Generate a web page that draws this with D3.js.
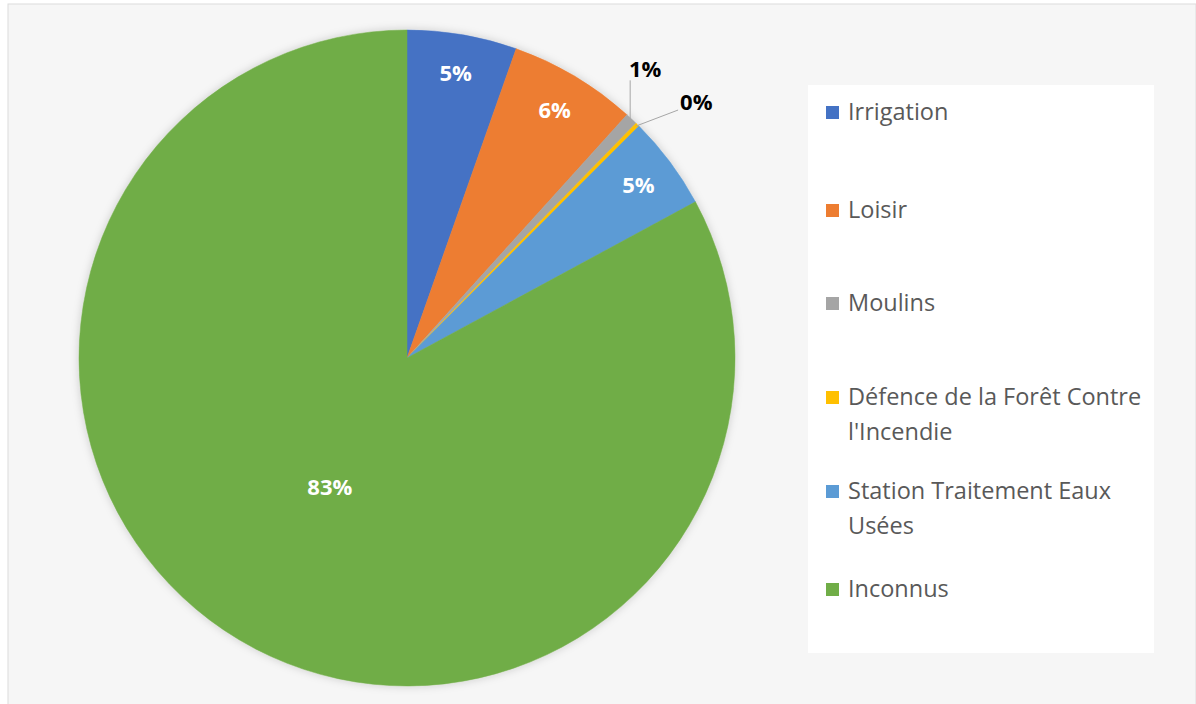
<!DOCTYPE html>
<head>
    <meta charset="utf-8">
    <script src="https://d3js.org/d3.v7.min.js"></script>
    <style>
        body { margin:0; background:#fff; }
        .legend-text { font-family: 'Open Sans', sans-serif; font-size: 23.5px; fill: #595959; }
        .pct { font-family: 'Open Sans', sans-serif; font-size: 22px; font-weight: bold; }
        .leader { stroke: #a6a6a6; stroke-width: 1; fill: none; }
    </style>
</head>
<body>
<script>
    const categories = ['Irrigation', 'Loisir', 'Moulins', 'Défence de la Forêt Contre l\'Incendie', 'Station Traitement Eaux Usées', 'Inconnus'];
    const legendLines = [['Irrigation'], ['Loisir'], ['Moulins'], ['Défence de la Forêt Contre', 'l\'Incendie'], ['Station Traitement Eaux', 'Usées'], ['Inconnus']];
    const values = [5.4, 6.3, 0.6, 0.2, 4.6, 82.9];
    const colors = ['#4472c4', '#ed7d31', '#a5a5a5', '#ffc000', '#5b9bd5', '#70ad47'];

    const width = 1196, height = 704;
    const cx = 407, cy = 358, radius = 328;

    const svg = d3.select('body').append('svg')
        .attr('width', width)
        .attr('height', height);

    const defs = svg.append('defs');
    const shadow = defs.append('filter').attr('id', 'shadow')
        .attr('x', '-10%').attr('y', '-10%').attr('width', '120%').attr('height', '120%');
    shadow.append('feDropShadow')
        .attr('dx', 0).attr('dy', 0).attr('stdDeviation', 4)
        .attr('flood-color', '#000').attr('flood-opacity', 0.18);

    // chart area
    svg.append('rect')
        .attr('x', 8).attr('y', 4)
        .attr('width', width - 8).attr('height', height)
        .attr('fill', '#f6f6f6')
        .attr('stroke', '#dcdcdc');

    // legend box
    svg.append('rect')
        .attr('x', 808).attr('y', 85)
        .attr('width', 346).attr('height', 568)
        .attr('fill', '#fff');

    const pie = d3.pie().sort(null).value(d => d);
    const arcs = pie(values);
    const arc = d3.arc().innerRadius(0).outerRadius(radius);

    const g = svg.append('g').attr('transform', `translate(${cx},${cy})`);

    g.append('g').attr('filter', 'url(#shadow)')
        .selectAll('path')
        .data(arcs)
        .enter().append('path')
        .attr('d', arc)
        .attr('fill', (d, i) => colors[i])
        .attr('stroke', (d, i) => colors[i])
        .attr('stroke-width', 0.5);

    const pctText = d => `${Math.round(d.value)}%`;
    const inner = arcs.filter(d => d.value >= 2);
    const outer = arcs.filter(d => d.value < 2);

    g.selectAll('.pct-in')
        .data(inner)
        .enter().append('text')
        .attr('class', 'pct')
        .attr('fill', '#fff')
        .attr('text-anchor', 'middle')
        .attr('dy', '0.35em')
        .attr('transform', d => {
            const r = d.value > 50 ? radius * 0.46 : radius * 0.88;
            const a = (d.startAngle + d.endAngle) / 2;
            return `translate(${Math.sin(a) * r},${-Math.cos(a) * r})`;
        })
        .text(pctText);

    // small slices: labels outside with leader lines
    outer.forEach((d, k) => {
        const a = (d.startAngle + d.endAngle) / 2;
        const ex = Math.sin(a) * (radius - 2), ey = -Math.cos(a) * (radius - 2);
        let pts, tx, ty, anchor;
        if (k === 0) {
            pts = [[ex, ey], [ex, ey - 40]];
            tx = ex + 15; ty = ey - 51; anchor = 'middle';
        } else {
            pts = [[ex, ey], [ex + 42, ey - 16]];
            tx = ex + 44; ty = ey - 24; anchor = 'start';
        }
        g.append('path').attr('class', 'leader').attr('d', d3.line()(pts));
        g.append('text')
            .attr('class', 'pct')
            .attr('fill', '#000')
            .attr('text-anchor', anchor)
            .attr('x', tx).attr('y', ty)
            .attr('dy', '0.35em')
            .text(pctText(d));
    });

    // legend
    const legendY = [112, 210, 303, 397, 491, 589];
    const legend = svg.append('g').attr('class', 'legend');
    const items = legend.selectAll('g')
        .data(categories)
        .enter().append('g')
        .attr('transform', (d, i) => `translate(826,${legendY[i]})`);

    items.append('rect')
        .attr('x', 0).attr('y', -6)
        .attr('width', 13).attr('height', 13)
        .attr('fill', (d, i) => colors[i]);

    items.append('text')
        .attr('class', 'legend-text')
        .attr('x', 22)
        .selectAll('tspan')
        .data((d, i) => legendLines[i])
        .enter().append('tspan')
        .attr('x', 22)
        .attr('dy', (d, j) => j === 0 ? '0.35em' : '1.48em')
        .text(d => d);
</script>
</body>
